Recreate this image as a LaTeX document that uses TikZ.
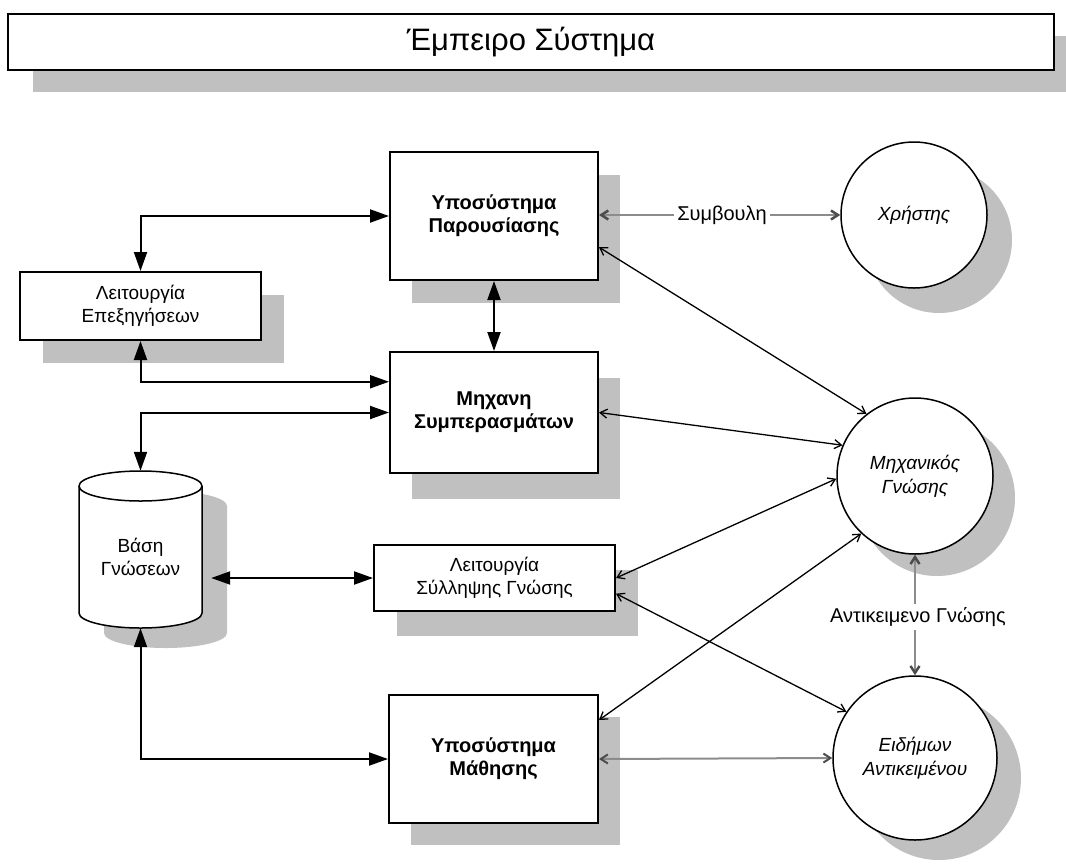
\documentclass[tikz,border=0pt]{standalone}
\usepackage{fontspec}
\setmainfont{Liberation Sans}
\usetikzlibrary{arrows.meta,shadows,calc}
\definecolor{shadowgray}{RGB}{192,192,192}
\definecolor{linkgray}{RGB}{140,140,140}

\begin{document}
\begin{tikzpicture}[x=1pt,y=-1pt,
  box/.style={draw=black,line width=2pt,fill=white,align=center,inner sep=0pt},
  shadowed/.style 2 args={drop shadow={shadow xshift=#1pt,shadow yshift=-#2pt,fill=shadowgray,opacity=1}},
  boldtext/.style={font=\fontsize{20}{23}\selectfont\bfseries},
  plaintext/.style={font=\fontsize{19}{23}\selectfont},
  actor/.style={circle,draw=black,line width=1.5pt,fill=white,align=center,inner sep=0pt,
    font=\fontsize{19}{24}\selectfont\itshape},
  heavylink/.style={line width=2pt,{Triangle[length=19pt,width=13pt]}-{Triangle[length=19pt,width=13pt]}},
  fineline/.style={line width=1.3pt,{Straight Barb[length=7pt,width=9pt]}-{Straight Barb[length=7pt,width=9pt]}},
  greylink/.style={draw=linkgray,line width=2.5pt,-{Straight Barb[length=7pt,width=9pt,color=black!70]}},
  greypair/.style={draw=linkgray,line width=2pt,
    {Straight Barb[length=7pt,width=9pt,color=black!70]}-{Straight Barb[length=7pt,width=9pt,color=black!70]}},
  lbl/.style={fill=white,inner sep=3pt,font=\fontsize{20}{23}\selectfont}
]
\useasboundingbox[fill=white] (0,0) rectangle (1066,863);

% title bar
\node[box,shadowed={25}{22},minimum width=1046pt,minimum height=56pt,
  font=\fontsize{31}{36}\selectfont] (title) at (531,42) {Έμπειρο Σύστημα};

% subsystem boxes
\node[box,boldtext,shadowed={22}{23},minimum width=208pt,minimum height=128pt] (pres) at (494,216)
  {Υποσύστημα\\Παρουσίασης};
\node[box,plaintext,shadowed={23}{23},minimum width=241pt,minimum height=68pt] (expl) at (140.5,306)
  {Λειτουργία\\Επεξηγήσεων};
\node[box,boldtext,shadowed={22}{26},minimum width=208pt,minimum height=121pt] (infer) at (494,412.5)
  {Μηχανη\\Συμπερασμάτων};
\node[box,plaintext,shadowed={23}{25},minimum width=241pt,minimum height=66pt] (acq) at (494.5,578)
  {Λειτουργία\\Σύλληψης Γνώσης};
\node[box,boldtext,shadowed={22}{22},minimum width=209pt,minimum height=128pt] (learn) at (493.5,759)
  {Υποσύστημα\\Μάθησης};

% knowledge base cylinder
\fill[shadowgray] (104,506) -- (104,633)
  arc[start angle=180,end angle=360,x radius=61.5pt,y radius=15pt] -- (227,506)
  arc[start angle=0,end angle=180,x radius=61.5pt,y radius=15pt] -- cycle;
\filldraw[fill=white,line width=1.5pt] (79,486) -- (79,613)
  arc[start angle=180,end angle=360,x radius=61.5pt,y radius=15pt] -- (202,486)
  arc[start angle=0,end angle=180,x radius=61.5pt,y radius=15pt] -- cycle;
\draw[line width=1.5pt] (79,486) arc[start angle=180,end angle=360,x radius=61.5pt,y radius=15pt];
\node[minimum width=123pt,minimum height=157pt,inner sep=0pt] (kb) at (140.5,549.5) {};
\node[plaintext,align=center,inner sep=0pt] (kbtext) at (140.5,557) {Βάση\\Γνώσεων};

% people
\node[actor,shadowed={25}{25},minimum size=146pt] (user) at (914,215) {Χρήστης};
\node[actor,shadowed={22}{22},minimum size=156pt] (ke) at (915,476) {Μηχανικός\\Γνώσης};
\node[actor,shadowed={24}{20},minimum size=164pt] (expert) at (915,758) {Ειδήμων\\Αντικειμένου};

% link labels
\node[lbl] (adv) at (722,215) {Συμβουλη};
\node[lbl] (kobj) at (918,617) {Αντικειμενο Γνώσης};

% internal links
\draw[heavylink] (expl.north) |- (pres.west);
\draw[heavylink] (expl.south) |- ($(infer.north west)!0.25!(infer.south west)$);
\draw[heavylink] (pres.south) -- (infer.north);
\draw[heavylink] (kb.north) |- (infer.west);
\draw[heavylink] ($(kb.east |- acq.west)+(9,0)$) -- (acq.west);
\draw[heavylink] (kb.south) |- (learn.west);

% advice to the user
\draw[greylink] (adv.west) -- (pres.east |- adv.west);
\draw[greylink] (adv.east) -- (user.west);

% links with the people
\draw[fineline] ($(pres.north east)!0.74!(pres.south east)$) -- (ke.128);
\draw[fineline] (infer.east) -- (ke.157);
\draw[fineline] (acq.east) -- (ke.182);
\draw[fineline] ($(acq.north east)!0.73!(acq.south east)$) -- (expert.146);
\draw[fineline] ($(learn.north east)!0.2!(learn.south east)$) -- (ke.227);
\draw[greypair] (learn.east) -- (expert.west);
\draw[greylink] (kobj.north -| ke.south) -- (ke.south);
\draw[greylink] (kobj.south -| expert.north) -- (expert.north);
\end{tikzpicture}
\end{document}
